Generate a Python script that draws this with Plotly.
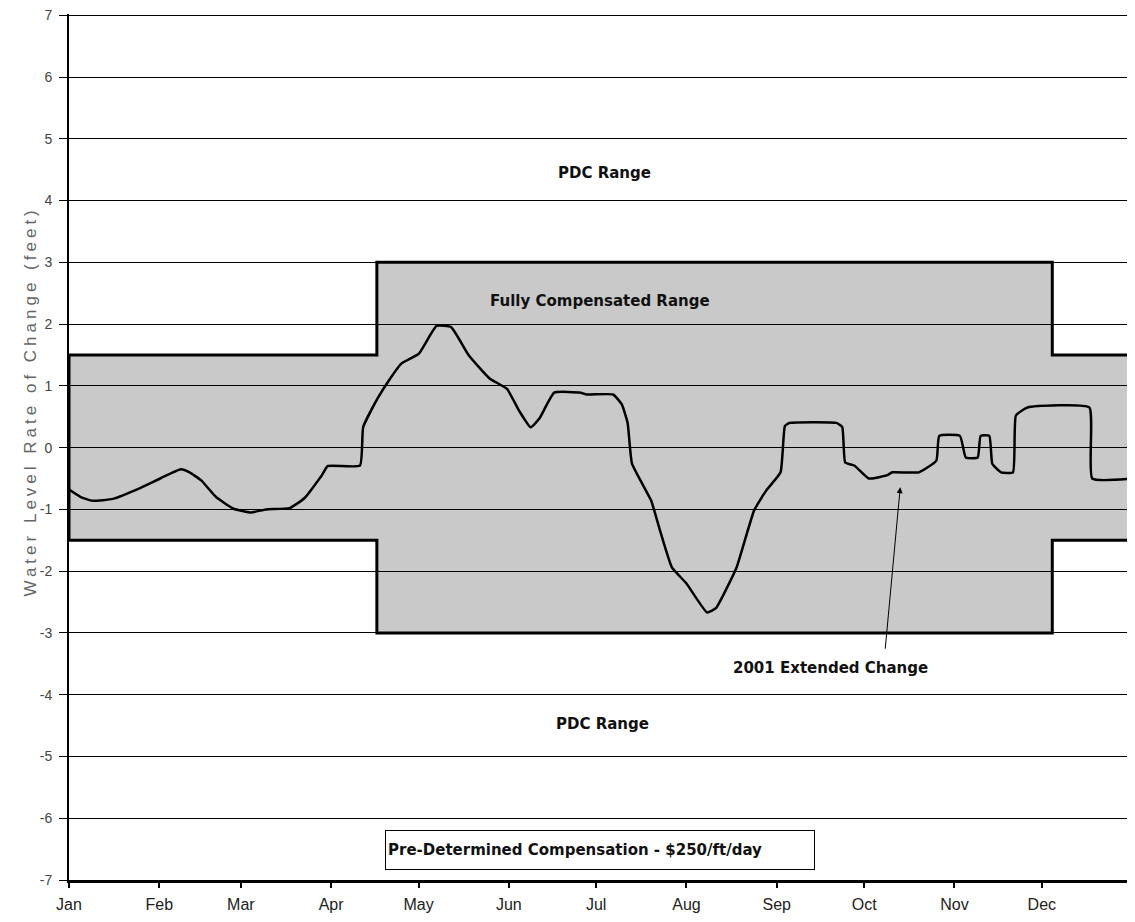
import pandas as pd
import plotly.graph_objects as go

# ---- data ----
base_date = "2001-01-01"
# day-of-year offsets and water level rate of change (feet)
curve_days = [0, 4, 8.1, 15.1, 24.2, 31.3, 38.4, 41.4, 45.4, 50.5, 56.5, 62.6, 67.6, 75.7,
              80.8, 86.8, 88.8, 99.9, 101, 106, 110, 114.1, 120.1, 126.2, 131.2, 137.3,
              144.4, 150.4, 154.5, 158.5, 161.5, 166.6, 175.7, 177.7, 186.8, 189.8, 191.8,
              193.3, 199.9, 202.9, 207, 212, 219.1, 222.1, 229.2, 235.2, 239.3, 244.3,
              245.8, 247.4, 263.5, 265.5, 266.5, 269.6, 274.6, 280.7, 282.7, 291.8, 297.8,
              298.8, 305.9, 307.9, 312, 313, 316, 317, 320, 324.1, 325.1, 329.1, 350.3,
              351.3, 366]
curve_vals = [-0.68, -0.8, -0.86, -0.83, -0.66, -0.5, -0.35, -0.4, -0.53, -0.8, -0.99,
              -1.05, -1.0, -0.98, -0.82, -0.45, -0.3, -0.29,
              0.33, 0.8, 1.1, 1.36, 1.52, 1.97, 1.95, 1.49, 1.12, 0.95, 0.6, 0.33, 0.47,
              0.89, 0.89, 0.86, 0.86, 0.7, 0.4, -0.26, -0.86, -1.34, -1.94, -2.2, -2.67,
              -2.6, -1.94, -1.02, -0.7, -0.4, 0.35, 0.4, 0.4, 0.33, -0.24, -0.29, -0.5,
              -0.45, -0.4, -0.4, -0.21, 0.19, 0.19, -0.16, -0.16, 0.19, 0.19, -0.26,
              -0.4, -0.4, 0.52, 0.65, 0.65, -0.5, -0.5]

# fully compensated range: period boundaries (days) and +/- limits (feet)
range_edges = [0, 105.7, 337.6, 366]
range_limits = [1.5, 3.0, 1.5]

x_end_day = 366
y_min, y_max = -7, 7.02
y_ticks = list(range(-7, 8))
y_ticktext = [str(v) for v in y_ticks]

arrow_head = (285.4, -0.64)
arrow_tail = (280.2, -3.28)

# ---- build ----
base = pd.Timestamp(base_date)
def to_date(d):
    return base + pd.to_timedelta(d, unit="D")

# polygon outline of the fully compensated range
poly_x, poly_y = [], []
for i, lim in enumerate(range_limits):
    poly_x += [range_edges[i], range_edges[i + 1]]
    poly_y += [lim, lim]
for i in reversed(range(len(range_limits))):
    poly_x += [range_edges[i + 1], range_edges[i]]
    poly_y += [-range_limits[i], -range_limits[i]]
poly_x.append(poly_x[0]); poly_y.append(poly_y[0])

arial = "Arial, Liberation Sans, sans-serif"
wide = "DejaVu Sans, Verdana, sans-serif"

W, H = 1127, 914
ML, MT, MB = 61, 6, 42
PW, PH = W - ML, H - MT - MB

fig = go.Figure()
fig.add_trace(go.Scatter(
    x=[to_date(d) for d in poly_x], y=poly_y, mode="lines", fill="toself",
    fillcolor="rgba(0,0,0,0.21)", line=dict(color="black", width=3),
    hoverinfo="skip", showlegend=False))
fig.add_trace(go.Scatter(
    x=[to_date(d) for d in curve_days], y=curve_vals, mode="lines",
    line=dict(color="black", width=2.5, shape="spline", smoothing=0.4),
    showlegend=False, name="2001"))

bold = dict(family=wide, size=15, color="#111")
annos = [
    dict(x=to_date(184), y=4.45, text="<b>PDC Range</b>", showarrow=False, font=bold),
    dict(x=to_date(182.4), y=2.38, text="<b>Fully Compensated Range</b>", showarrow=False, font=bold),
    dict(x=to_date(183), y=-4.47, text="<b>PDC Range</b>", showarrow=False, font=bold),
    dict(x=to_date(261.3), y=-3.56, text="<b>2001 Extended Change</b>", showarrow=False, font=bold),
    dict(x=to_date(arrow_head[0]), y=arrow_head[1], ax=to_date(arrow_tail[0]), ay=arrow_tail[1],
         axref="x", ayref="y", text="", showarrow=True, arrowhead=2, arrowsize=1.2,
         arrowwidth=1, arrowcolor="black"),
    dict(x=to_date(108.5), y=-6.52, xanchor="left",
         text="<b>Pre-Determined Compensation - $250/ft/day</b>",
         showarrow=False, font=dict(family=wide, size=15, color="#111"),
         align="left", width=424, height=34, bordercolor="black", borderwidth=1,
         bgcolor="white", borderpad=2),
    dict(xref="paper", yref="paper", x=(10 - ML) / PW, y=(MT + PH - 394) / PH,
         text='<span style="letter-spacing:4px">Water Level Rate of Change (feet)</span>',
         textangle=-90, showarrow=False, font=dict(family=arial, size=17, color="#666")),
]
for a in annos:
    a.setdefault("xref", "x"); a.setdefault("yref", "y")
    fig.add_annotation(**a)

fig.update_layout(
    width=W, height=H,
    margin=dict(l=ML, r=0, t=MT, b=MB, autoexpand=False),
    paper_bgcolor="white", plot_bgcolor="white",
    font=dict(family=arial, size=14, color="#333"),
    xaxis=dict(type="date", range=[to_date(0), to_date(x_end_day)],
               dtick="M1", tick0=base_date, tickformat="%b", automargin=False,
               showgrid=False, showline=True, linecolor="black", linewidth=3,
               ticks="outside", ticklen=5, tickwidth=2, tickcolor="black",
               ticklabelstandoff=3,
               tickfont=dict(family=arial, size=16, color="#222")),
    yaxis=dict(range=[y_min, y_max], tickvals=y_ticks, ticktext=y_ticktext, automargin=False,
               ticklabeloverflow="allow", ticklabelstandoff=4,
               showgrid=True, gridcolor="black",
               gridwidth=1, zeroline=False, showline=True, linecolor="black",
               linewidth=2, ticks="outside", ticklen=8, tickcolor="black",
               tickfont=dict(family=arial, size=14, color="#444")),
)

fig.write_html("out.html")
